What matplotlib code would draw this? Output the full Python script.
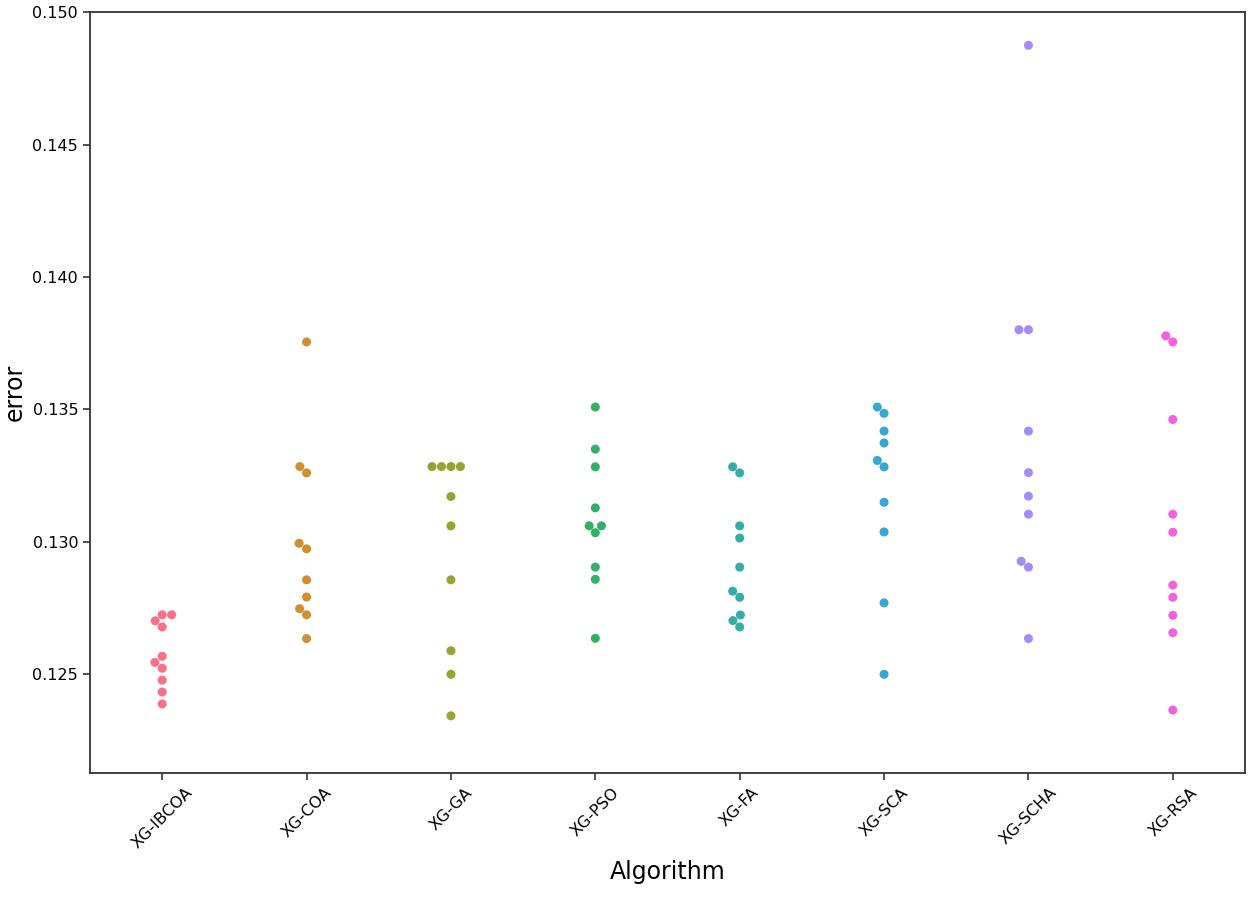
import matplotlib
matplotlib.use("Agg")
import matplotlib.pyplot as plt
import seaborn as sns
import pandas as pd

algorithms = ["XG-IBCOA", "XG-COA", "XG-GA", "XG-PSO", "XG-FA", "XG-SCA", "XG-SCHA", "XG-RSA"]

err_ibcoa = [0.12724, 0.12724, 0.12701, 0.12678, 0.12567, 0.12544, 0.12522, 0.12477, 0.12432, 0.12387]
err_coa = [0.13755, 0.13284, 0.13260, 0.12994, 0.12973, 0.12856, 0.12791, 0.12747, 0.12724, 0.12634]
err_ga = [0.13284, 0.13284, 0.13284, 0.13284, 0.13171, 0.13060, 0.12856, 0.12588, 0.12499, 0.12342]
err_pso = [0.13509, 0.13350, 0.13283, 0.13128, 0.13060, 0.13060, 0.13034, 0.12904, 0.12858, 0.12635]
err_fa = [0.13283, 0.13260, 0.13060, 0.13014, 0.12904, 0.12813, 0.12790, 0.12723, 0.12702, 0.12678]
err_sca = [0.13509, 0.13485, 0.13418, 0.13373, 0.13307, 0.13283, 0.13149, 0.13037, 0.12769, 0.12499]
err_scha = [0.14876, 0.13801, 0.13801, 0.13418, 0.13261, 0.13172, 0.13104, 0.12926, 0.12904, 0.12634]
err_rsa = [0.13778, 0.13755, 0.13462, 0.13104, 0.13036, 0.12836, 0.12790, 0.12722, 0.12656, 0.12364]

series = [err_ibcoa, err_coa, err_ga, err_pso, err_fa, err_sca, err_scha, err_rsa]
rows = []
for name, vals in zip(algorithms, series):
    for v in vals:
        rows.append({"Algorithm": name, "error": v})
df = pd.DataFrame(rows)

fig = plt.figure(figsize=(12.5, 8.98), dpi=100)
ax = fig.add_axes([0.072, 0.1392, 0.924, 0.8469])

sns.swarmplot(data=df, x="Algorithm", y="error", hue="Algorithm",
              order=algorithms, hue_order=algorithms,
              palette="husl", size=6.5, linewidth=0, legend=False, ax=ax)

ax.set_ylim(0.12126, 0.150)
ax.set_xlim(-0.5, 7.5)
ax.set_yticks([0.125, 0.130, 0.135, 0.140, 0.145, 0.150])
ax.set_yticklabels(["0.125", "0.130", "0.135", "0.140", "0.145", "0.150"], fontsize=11.5)
ax.set_xticks(range(len(algorithms)))
ax.set_xticklabels(algorithms, rotation=45, fontsize=11.5)
ax.set_xlabel("Algorithm", fontsize=17, labelpad=6)
ax.set_ylabel("error", fontsize=17)
for s in ax.spines.values():
    s.set_linewidth(1.3)
    s.set_color("#333333")
ax.tick_params(length=5, width=1.2, color="#333333")

fig.savefig("out.png", dpi=100)
